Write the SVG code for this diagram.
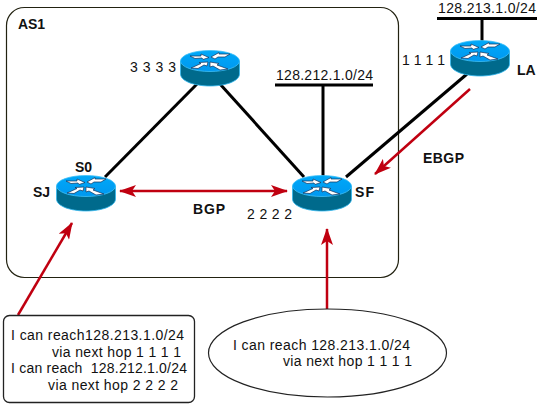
<svg xmlns="http://www.w3.org/2000/svg" xmlns:xlink="http://www.w3.org/1999/xlink" width="537" height="408" viewBox="0 0 537 408">
<style>
text{font-family:"Liberation Sans",Arial,sans-serif;font-size:14px;fill:#111}
.b{font-weight:bold;font-size:14px}
.k{stroke:#000;stroke-width:3;fill:none}
.r{stroke:#c00010;stroke-width:2.500;fill:none}
.ah{fill:#c00010;stroke:none}
</style>
<defs>
<marker id="ar" viewBox="0 0 17 12" refX="16" refY="6" markerWidth="17" markerHeight="12" markerUnits="userSpaceOnUse" orient="auto-start-reverse"><path class="ah" d="M0 0L17 6L0 12L4 6Z"/></marker>
<linearGradient id="top" x1="0" y1="0" x2="0" y2="1"><stop offset="0" stop-color="#00a8f8"/><stop offset="1" stop-color="#0098f0"/></linearGradient>
<g id="router">
<path d="M-29.500 -13V0C-29.500 7 -16 12 0 12S29.500 7 29.500 0V-13Z" fill="#006a8c" stroke="#30b8f0" stroke-width="0.800"/>
<ellipse cx="0" cy="-13" rx="29.500" ry="10.500" fill="url(#top)" stroke="#40c0f8" stroke-width="0.800"/>
<g fill="#fff" stroke="#10305a" stroke-width="0.700">
<path d="M-20 -18L-9 -18L-9 -20L-1 -16.500L-7 -14.500L-8 -16L-15 -15.500Z"/>
<path d="M20 -20L9 -20L9 -21.500L1 -17L5 -15L8 -17L15 -17Z"/>
<path d="M-19 -6L-9 -10.500L-11 -11.500L-2 -12L-3 -8L-6 -9L-12 -5.500Z"/>
<path d="M18 -5L7 -9L9 -10.500L0 -12L0 -7L3 -8L10 -4Z"/>
</g>
</g>
</defs>
<rect width="537" height="408" fill="#fff"/>
<rect x="6.500" y="7.500" width="392" height="270" rx="18" ry="18" fill="#fff" stroke="#221" stroke-width="1.200"/>
<text class="b" x="18" y="29" textLength="27">AS1</text>
<g id="connectors">
<path class="k" d="M105 177L197 84"/>
<path class="k" d="M220 84L304 177"/>
<path class="k" d="M323 86V176"/>
<path class="k" d="M346 177L467 74"/>
<path class="k" d="M275 85H373"/>
<path class="k" d="M482 20V42"/>
<path class="k" d="M437 18.500H537"/>
<path class="r" d="M470 89L375 174" marker-end="url(#ar)"/>
<path class="r" d="M120 191H287" marker-start="url(#ar)" marker-end="url(#ar)"/>
<path class="r" d="M18 315L72 223" marker-end="url(#ar)"/>
<path class="r" d="M327 309V229" marker-end="url(#ar)"/>
</g>
<g id="node-top"><use xlink:href="#router" href="#router" x="210" y="74"/><text x="130" y="72" textLength="46" lengthAdjust="spacing">3 3 3 3</text></g>
<g id="node-la"><use xlink:href="#router" href="#router" x="480" y="64"/><text x="402" y="65" textLength="43" lengthAdjust="spacing">1 1 1 1</text><text class="b" x="517" y="75">LA</text></g>
<g id="node-sj"><use xlink:href="#router" href="#router" x="86" y="199"/><text class="b" x="75" y="172">S0</text><text class="b" x="33" y="197">SJ</text></g>
<g id="node-sf"><use xlink:href="#router" href="#router" x="322" y="199"/><text class="b" x="355" y="197" textLength="19">SF</text><text x="247" y="219" textLength="45" lengthAdjust="spacing">2 2 2 2</text></g>
<g id="net-212"><text x="276" y="80" textLength="97">128.212.1.0/24</text></g>
<g id="net-213"><text x="438" y="13" textLength="98">128.213.1.0/24</text></g>
<text class="b" x="193" y="214" textLength="32">BGP</text>
<text class="b" x="423" y="163" textLength="41">EBGP</text>
<g id="box-sj">
<rect x="3.500" y="315.500" width="191" height="87" rx="6" ry="6" fill="#fff" stroke="#222" stroke-width="1.300"/>
<text x="11" y="340" textLength="173">I can reach128.213.1.0/24</text>
<text x="52" y="357" textLength="129">via next hop 1 1 1 1</text>
<text x="11" y="373" textLength="176" xml:space="preserve">I can reach  128.212.1.0/24</text>
<text x="48" y="390" textLength="130">via next hop 2 2 2 2</text>
</g>
<g id="ellipse-sf">
<ellipse cx="327.500" cy="353" rx="119" ry="44" fill="#fff" stroke="#222" stroke-width="1.200"/>
<text x="233" y="350" textLength="177">I can reach 128.213.1.0/24</text>
<text x="283" y="366" textLength="129">via next hop 1 1 1 1</text>
</g>
</svg>
